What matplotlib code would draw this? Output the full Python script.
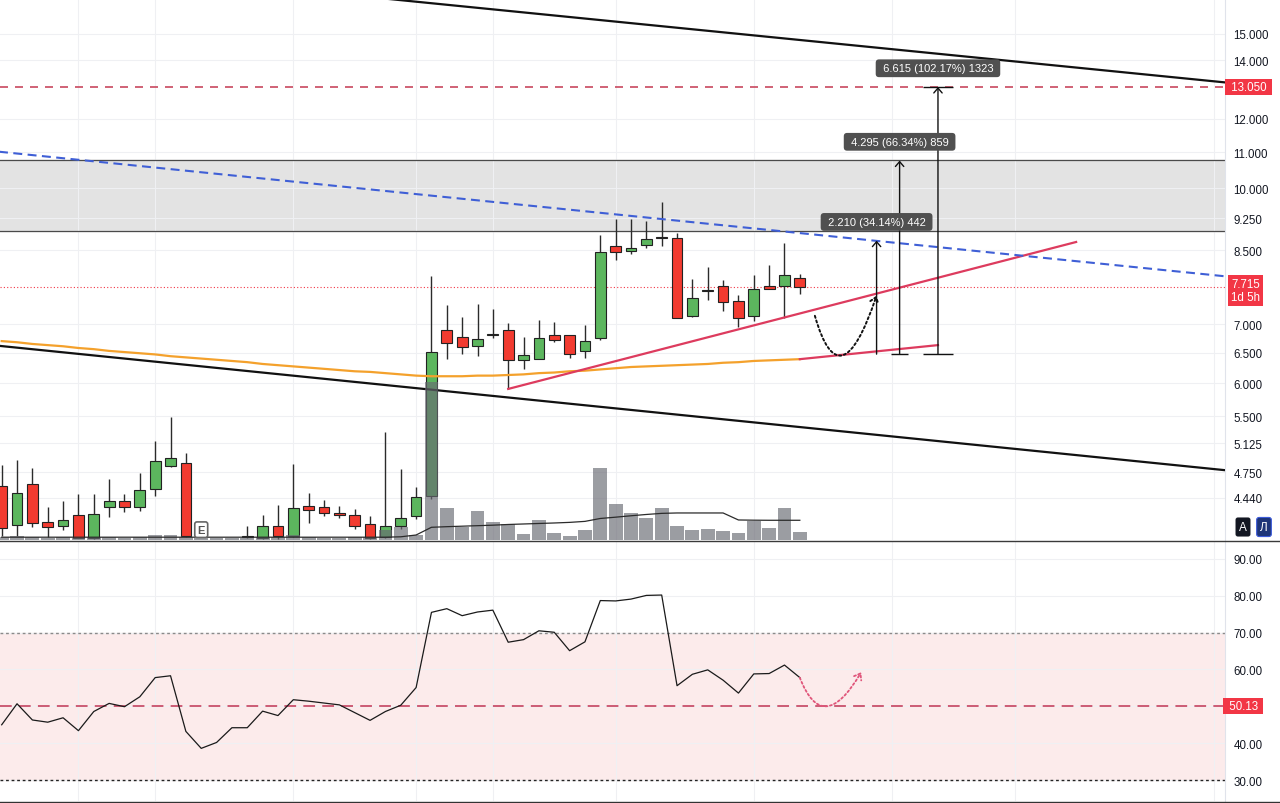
import numpy as np
import matplotlib
matplotlib.use('Agg')
import matplotlib.pyplot as plt
from matplotlib.lines import Line2D
from matplotlib.patches import FancyArrowPatch
from matplotlib.path import Path
from matplotlib.ticker import NullLocator, NullFormatter

plt.rcParams['font.family'] = ['Liberation Sans', 'DejaVu Sans']

# ---- data (daily bars, oldest first) ----
opens = [4.58, 4.14, 4.60, 4.17, 4.13, 4.24, 4.00, 4.34, 4.40, 4.34,
         4.55, 4.83, 4.87, 3.95, 3.78, 3.86, 4.01, 4.00, 4.13, 4.02,
         4.35, 4.33, 4.27, 4.24, 4.15, 4.01, 4.13, 4.23, 4.46, 6.89,
         6.77, 6.62, 6.80, 6.89, 6.37, 6.40, 6.81, 6.80, 6.53, 6.75,
         8.61, 8.48, 8.63, 8.81, 8.79, 7.15, 7.65, 7.74, 7.45, 7.15,
         7.74, 7.74, 7.91]
highs = [4.84, 4.91, 4.80, 4.34, 4.40, 4.49, 4.49, 4.67, 4.49, 4.74,
         5.15, 5.49, 5.00, 3.97, 3.90, 3.96, 4.12, 4.25, 4.36, 4.85,
         4.50, 4.42, 4.35, 4.31, 4.23, 5.28, 4.79, 4.57, 7.94, 7.37,
         7.14, 7.38, 7.29, 7.02, 6.78, 7.08, 7.04, 6.81, 6.99, 8.84,
         9.23, 9.23, 9.17, 9.65, 8.89, 7.89, 8.14, 7.87, 7.57, 7.97,
         8.18, 8.66, 7.99]
lows = [4.02, 4.02, 4.11, 4.01, 4.08, 4.00, 3.99, 4.22, 4.28, 4.29,
        4.46, 4.82, 4.01, 3.70, 3.70, 3.82, 4.00, 3.99, 3.99, 4.01,
        4.16, 4.23, 4.21, 4.09, 3.99, 4.00, 4.09, 4.20, 4.43, 6.40,
        6.48, 6.45, 6.75, 5.91, 6.23, 6.39, 6.68, 6.41, 6.41, 6.72,
        8.29, 8.41, 8.55, 8.61, 7.11, 7.14, 7.46, 7.26, 6.95, 7.07,
        7.68, 7.12, 7.59]
closes = [4.10, 4.50, 4.16, 4.11, 4.19, 4.00, 4.26, 4.41, 4.34, 4.53,
          4.89, 4.93, 4.02, 3.78, 3.86, 3.94, 4.02, 4.13, 4.02, 4.32,
          4.30, 4.27, 4.24, 4.13, 4.00, 4.12, 4.21, 4.45, 6.51, 6.67,
          6.59, 6.74, 6.82, 6.37, 6.46, 6.75, 6.72, 6.47, 6.71, 8.46,
          8.46, 8.55, 8.75, 8.77, 7.11, 7.50, 7.67, 7.43, 7.11, 7.69,
          7.69, 7.97, 7.715]
volume = [30, 40, 25, 20, 30, 20, 25, 30, 20, 30,
          50, 45, 30, 20, 20, 20, 20, 30, 25, 45,
          30, 20, 20, 30, 30, 100, 125, 45, 1580, 317,
          133, 287, 180, 160, 60, 197, 70, 43, 97, 717,
          360, 270, 217, 317, 137, 100, 113, 90, 70, 190,
          123, 317, 80]
volume_ma = [28] * 26 + [32, 50, 127, 133, 138, 143, 148, 155, 160, 165,
                         170, 176, 186, 215, 228, 242, 255, 266, 270, 270,
                         270, 270, 200, 198, 197, 197, 197]
ma_long = [6.70, 6.68, 6.65, 6.63, 6.61, 6.58, 6.56, 6.53, 6.51, 6.49,
           6.47, 6.44, 6.42, 6.40, 6.38, 6.36, 6.34, 6.31, 6.29, 6.27,
           6.25, 6.23, 6.21, 6.19, 6.18, 6.16, 6.14, 6.12, 6.11, 6.11,
           6.11, 6.12, 6.12, 6.13, 6.14, 6.16, 6.17, 6.19, 6.20, 6.22,
           6.24, 6.26, 6.27, 6.28, 6.29, 6.30, 6.31, 6.33, 6.34, 6.36,
           6.37, 6.38, 6.39]
rsi = [45.0, 50.7, 46.3, 45.7, 46.9, 43.4, 48.6, 50.8, 49.9, 52.6,
       57.8, 58.3, 43.2, 38.6, 40.2, 44.2, 44.2, 48.7, 47.5, 51.8,
       51.4, 50.9, 50.4, 48.3, 46.2, 48.6, 50.3, 55.1, 75.5, 76.5,
       74.6, 75.6, 76.1, 67.4, 68.1, 70.5, 70.1, 65.1, 67.5, 78.7,
       78.6, 79.1, 80.1, 80.2, 55.6, 58.7, 59.9, 57.1, 53.6, 58.8,
       58.9, 61.2, 57.8]
rsi_last = 50.13

price_ticks = [15.0, 14.0, 12.0, 11.0, 10.0, 9.25, 8.5, 7.0, 6.5, 6.0,
               5.5, 5.125, 4.75, 4.44]
rsi_ticks = [90, 80, 70, 60, 40, 30]
rsi_grid = [90, 80, 70, 60, 50, 40, 30]
time_grid = [5, 10, 19, 27, 32, 40, 49, 58, 66, 79]

last_price = 7.715
target_level = 13.05
zone = (8.95, 10.77)

# drawn objects (bar index, price)
upper_channel = ([20, 81], [16.79, 13.14])
lower_channel = ([-1, 81], [6.64, 4.75])
blue_trend = ([-1, 81], [11.05, 7.90])
support_trend = ([33, 70], [5.91, 8.69])
ma_extension = ([52, 61], [6.39, 6.63])

measure_x = [57.0, 58.5, 61.0]
measure_base = 6.475
measure_top = [8.72, 10.76, 13.05]
measure_text = ['2.210 (34.14%) 442', '4.295 (66.34%) 859', '6.615 (102.17%) 1323']
measure_tick = [0, 0.54, 0.98]

GREEN = '#5cb65e'
RED = '#f23b30'
LABEL_RED = '#f23645'

bars = np.arange(len(opens))
o = np.array(opens)
h = np.array(highs)
l = np.array(lows)
c = np.array(closes)

W, H = 1280, 804
fig = plt.figure(figsize=(W / 100, H / 100), dpi=100)
ax = fig.add_axes([0, (H - 541) / H, 1225 / W, 541 / H])
axr = fig.add_axes([0, (H - 802) / H, 1225 / W, (802 - 543) / H], sharex=ax)
axv = fig.add_axes(ax.get_position(), sharex=ax)

# ---- price pane ----
ax.set_yscale('log')
ax.axhspan(zone[0], zone[1], color='#e3e3e3', zorder=0.4)
for lev in zone:
    ax.axhline(lev, color='#4a4a4a', lw=0.9, zorder=1)

ax.vlines(bars, l, h, color='#2b2b2b', lw=1.0, zorder=3)
ax.bar(bars, np.abs(c - o), bottom=np.minimum(o, c), width=0.7,
       color=np.where(c >= o, GREEN, RED), edgecolor='#222222',
       linewidth=0.8, zorder=3)

ax.plot(bars, ma_long, color='#f4a12c', lw=1.6, zorder=4)
ax.plot(*ma_extension, color='#dd3b5e', lw=1.6, zorder=4)
ax.plot(*support_trend, color='#dd3b5e', lw=1.6, zorder=4)
ax.plot(*upper_channel, color='#111111', lw=1.6, zorder=4)
ax.plot(*lower_channel, color='#111111', lw=1.6, zorder=4)
ax.plot(*blue_trend, color='#3f5fd6', lw=1.5, ls=(0, (4.3, 2.6)), zorder=4)

ax.axhline(target_level, color='#c8485f', lw=1.2, ls=(0, (4.8, 4.2)), zorder=2)
ax.axhline(last_price, color=LABEL_RED, lw=0.8, ls=(0, (1, 2)), zorder=2)

for x, top, txt, half in zip(measure_x, measure_top, measure_text, measure_tick):
    ax.annotate('', xy=(x, top), xytext=(x, measure_base),
                arrowprops=dict(arrowstyle='->,head_length=0.35,head_width=0.3',
                                color='#111111', lw=1.0, shrinkA=0, shrinkB=0,
                                mutation_scale=10), zorder=5)
    if half:
        ax.hlines(measure_base, x - half, x + half, color='#111111', lw=1.0, zorder=5)
    ax.annotate(' ' + txt + ' ', xy=(x, top), xytext=(0, 13.5),
                textcoords='offset points', ha='center', va='center',
                fontsize=8, color='white', zorder=6,
                bbox=dict(boxstyle='round,pad=0.35,rounding_size=0.3',
                          fc='#505050', ec='none'))
ax.hlines(measure_top[2], measure_x[2] - 1.0, measure_x[2] + 1.0,
          color='#111111', lw=1.0, zorder=5)

proj = Path([(52.98, 7.16), (54.62, 5.68), (57.0, 7.55)],
            [Path.MOVETO, Path.CURVE3, Path.CURVE3])
ax.add_patch(FancyArrowPatch(path=proj, arrowstyle='->,head_length=0.4,head_width=0.3',
                             mutation_scale=10, color='#111111', lw=1.4,
                             linestyle=(0, (1.1, 1.4)), zorder=5))

ax.set_xlim(-0.11, 79.7)
ax.set_ylim(3.976, 16.44)
ax.yaxis.tick_right()
ax.set_yticks(price_ticks)
ax.set_yticklabels([f'{t:.3f}' for t in price_ticks])
ax.yaxis.set_minor_locator(NullLocator())
ax.yaxis.set_minor_formatter(NullFormatter())
ax.set_xticks(time_grid)
ax.tick_params(axis='y', length=0, pad=6, labelsize=8.3, labelcolor='#131722')
ax.tick_params(axis='x', length=0, labelbottom=False)
ax.grid(True, color='#eff0f3', lw=0.8)
ax.set_axisbelow(True)
for s in ['top', 'left', 'bottom']:
    ax.spines[s].set_visible(False)
ax.spines['right'].set_color('#e0e3eb')

lab = dict(xycoords=('axes fraction', 'data'), textcoords='offset points',
           ha='left', color='white', fontsize=8.3, annotation_clip=False)
ax.annotate(' 13.050 ', xy=(1.0, target_level), xytext=(2, 0), va='center',
            bbox=dict(boxstyle='square,pad=0.2', fc=LABEL_RED, ec='none'), **lab)
ax.annotate('7.715\n1d 5h', xy=(1.0, last_price), xytext=(4.5, 6.5), va='top',
            linespacing=1.05,
            bbox=dict(boxstyle='square,pad=0.25', fc=LABEL_RED, ec='none'), **lab)

# ---- volume overlay ----
axv.bar(bars, volume, width=0.9, color='#686a72', alpha=0.66, zorder=2)
axv.plot(bars, volume_ma, color='#2b2b2b', lw=0.9, zorder=3)
axv.set_ylim(0, max(volume) * 3.42)
axv.axis('off')
axv.text(13, 4.085, 'E', transform=ax.transData, ha='center', va='center',
         fontsize=8, fontweight='bold', color='#555555', zorder=6,
         bbox=dict(boxstyle='round,pad=0.25,rounding_size=0.2', fc='white',
                   ec='#666666', lw=1.2))

# ---- RSI pane ----
axr.axhspan(30, 70, color='#fcebeb', zorder=0.3)
axr.axhline(70, color='#8a8a8a', lw=1.0, ls=(0, (2, 2)), zorder=1)
axr.axhline(30, color='#222222', lw=1.0, ls=(0, (2, 2)), zorder=1)
axr.axhline(50, color='#c9506b', lw=1.3, ls=(0, (6.5, 4)), zorder=1)
axr.plot(bars, rsi, color='#1a1a1a', lw=0.9, zorder=3)
rsi_proj = Path([(52.0, 57.76), (53.5, 41.65), (56.0, 59.27)],
                [Path.MOVETO, Path.CURVE3, Path.CURVE3])
axr.add_patch(FancyArrowPatch(path=rsi_proj, arrowstyle='->,head_length=0.4,head_width=0.3',
                              mutation_scale=10, color='#e0557a', lw=1.3,
                              linestyle=(0, (1.1, 1.4)), zorder=4))
axr.set_ylim(24.32, 94.59)
axr.yaxis.tick_right()
axr.set_yticks(rsi_ticks)
axr.set_yticklabels([f'{t:.2f}' for t in rsi_ticks])
axr.set_yticks(rsi_grid, minor=True)
axr.tick_params(axis='y', which='both', length=0, pad=6, labelsize=8.3,
                labelcolor='#131722')
axr.tick_params(axis='x', length=0, labelbottom=False)
axr.grid(True, which='both', color='#eff0f3', lw=0.8)
axr.set_axisbelow(True)
for s in ['top', 'left', 'bottom']:
    axr.spines[s].set_visible(False)
axr.spines['right'].set_color('#e0e3eb')
axr.annotate(f' {rsi_last:.2f} ', xy=(1.0, rsi_last), xytext=(0.5, 0), va='center',
             bbox=dict(boxstyle='square,pad=0.2', fc=LABEL_RED, ec='none'), **lab)

# pane separators and scale buttons
fig.add_artist(Line2D([0, 1], [1 - 541.5 / H] * 2, transform=fig.transFigure,
                      color='#3a3a3a', lw=1.0))
fig.add_artist(Line2D([0, 1], [1 - 802.5 / H] * 2, transform=fig.transFigure,
                      color='#333333', lw=1.0))
fig.text(1243 / W, 1 - 528 / H, 'A', ha='center', va='center', color='white',
         fontsize=8.5, bbox=dict(boxstyle='round,pad=0.3,rounding_size=0.2',
                                 fc='#131722', ec='none'))
fig.text(1264 / W, 1 - 528 / H, 'Л', ha='center', va='center', color='white',
         fontsize=8.5, bbox=dict(boxstyle='round,pad=0.3,rounding_size=0.2',
                                 fc='#1e3578', ec='#3d5bd9', lw=0.8))

fig.savefig('out.png', dpi=100, facecolor='white')
